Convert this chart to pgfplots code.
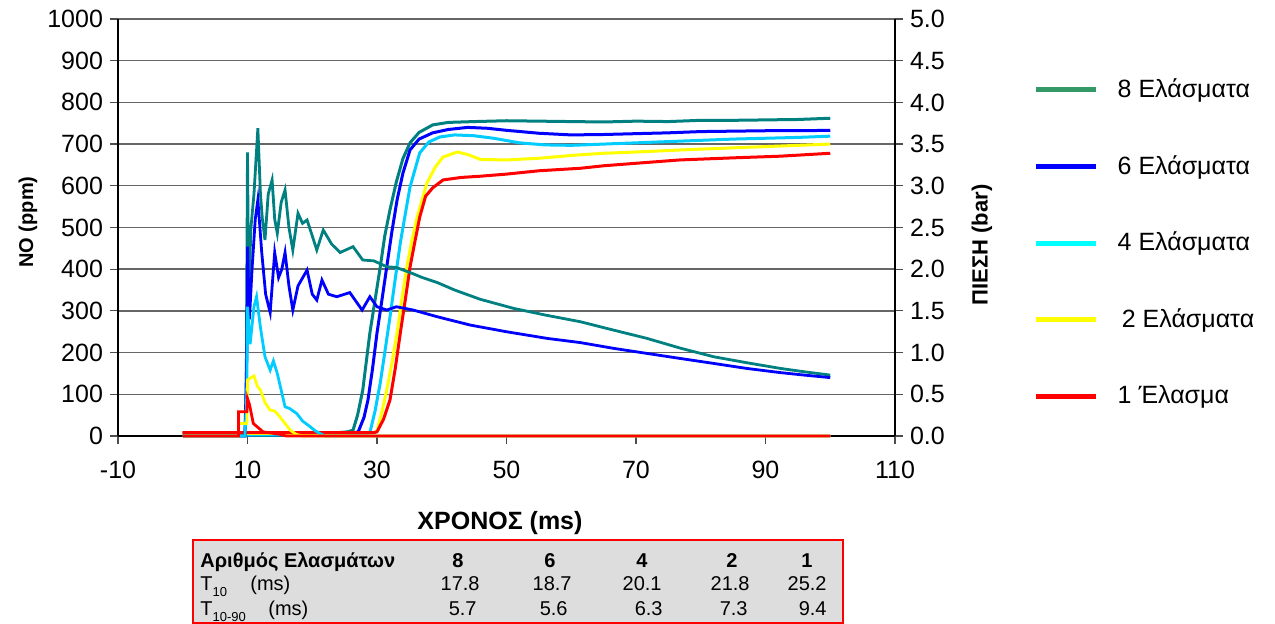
\documentclass[border=0pt]{standalone}
\usepackage{fontspec}
\setmainfont{Liberation Sans}
\usepackage{pgfplots}
\pgfplotsset{compat=1.18}
\definecolor{cteal}{RGB}{0,128,128}
\definecolor{cteallg}{RGB}{51,153,102}
\definecolor{cblue}{RGB}{0,0,255}
\definecolor{ccyan}{RGB}{0,204,255}
\definecolor{ccyanlg}{RGB}{0,255,255}
\definecolor{cyellow}{RGB}{255,255,0}
\definecolor{cred}{RGB}{255,0,0}
\definecolor{tblgray}{RGB}{221,221,221}
\pgfplotsset{
  common/.style={
    width=388.5pt, height=208.5pt, scale only axis,
    xmin=-10, xmax=110, clip=false,
    /pgf/number format/assume math mode=true,
    /pgf/number format/1000 sep={},
    tick align=outside, major tick length=4pt,
    tick style={black!70, line width=0.6pt},
    ticklabel style={font=\fontsize{12.5}{14}\selectfont},
    axis line style={black, line width=0.8pt},
  }
}
\begin{document}
\begin{tikzpicture}
\begin{axis}[common,
  ymin=0, ymax=1000, ytick={0,100,...,1000},
  xtick={-10,10,...,110},
  axis x line*=bottom, axis y line*=left,
  xticklabel style={yshift=-5pt},
  ymajorgrids, grid style={black!60, line width=0.7pt},
  ylabel={\textbf{NO (ppm)}},
  ylabel style={font=\fontsize{10}{12}\selectfont, at={(axis description cs:-0.1158,0.513)}, anchor=center},
  xlabel={\textbf{ΧΡΟΝΟΣ (ms)}},
  xlabel style={font=\fontsize{12.5}{14}\selectfont, at={(axis description cs:0.4916,-0.2086)}, anchor=center},
  legend style={at={(axis description cs:1.178,0.868)}, anchor=north west, draw=none, fill=none,
    inner sep=0pt, row sep=23.5pt, font=\fontsize{12.5}{14}\selectfont,
    nodes={inner sep=2pt}},
  legend cell align=left,
  legend image code/.code={\draw[#1, line width=2.5pt] (0pt,0pt) -- (30pt,0pt); \path (38pt,0pt);},
  every axis plot/.append style={line width=1.5pt},
]
\addplot[cteal, mark=none, legend image post style={cteallg}] coordinates {
(0,8) (5,8) (10,8) (15,8) (20,8) (24,8) (25.5,10) (26.3,14) (27,50) (27.8,110) (28.9,247) (29.7,326)
(30.5,405) (31.2,480) (32.0,542) (33,610) (34,665) (35.1,703) (36.5,728) (38.6,746) (41,752) (45,754)
(50,756) (55,755) (60,754) (65,753) (70,755) (75,754) (80,757) (85,757) (90,758) (95,759) (100,762)};
\addlegendentry{8 Ελάσματα}
\addplot[cblue, mark=none] coordinates {
(0,6) (5,6) (10,6) (15,6) (20,6) (26,6) (27.1,10) (28,45) (28.6,86) (29.3,160) (30.0,247) (30.8,330)
(31.5,405) (32.3,490) (33.1,566) (34,630) (35.1,686) (36.5,712) (38.6,727) (41,735) (44,740) (47,738)
(50,733) (55,726) (60,722) (65,723) (70,725) (75,727) (80,730) (85,731) (90,732) (95,732) (100,733)};
\addlegendentry{6 Ελάσματα}
\addplot[ccyan, mark=none, legend image post style={ccyanlg}] coordinates {
(0,2) (10,2) (20,2) (28,3) (28.9,8) (29.7,60) (30.5,127) (31.2,200) (32.0,285) (32.8,375) (33.6,463)
(34.4,535) (35.1,597) (36.6,679) (38,705) (39.7,717) (42,722) (45,720) (48,714) (52,703) (56,698)
(60,697) (65,700) (70,703) (75,706) (80,709) (85,712) (90,714) (95,716) (100,719)};
\addlegendentry{4 Ελάσματα}
\addplot[cyellow, mark=none] coordinates {
(0,6) (10,6) (20,6) (29.5,8) (30.0,12) (30.8,60) (31.5,110) (32.3,175) (33.1,247) (33.8,325) (34.6,405)
(35.4,470) (36.2,525) (37.7,606) (39,645) (40.2,669) (42.4,681) (44,675) (46,663) (50,662) (55,666)
(61,674) (65,678) (70,681) (77,686) (85,691) (90,694) (95,697) (100,700)};
\addlegendentry{\,2 Ελάσματα}
\addplot[cred, mark=none] coordinates {
(0,8) (10,8) (20,8) (29.5,8) (30,10) (31,40) (32,86) (32.8,160) (33.6,247) (34.4,330) (35.1,405)
(35.9,470) (36.6,525) (37.5,575) (38.6,595) (40.2,614) (43,620) (46,623) (50,628) (55,636) (61.4,642)
(65,648) (70,654) (76.8,662) (85,667) (92.3,671) (100,678)};
\addlegendentry{1 Έλασμα}
\end{axis}
\begin{axis}[common,
  ymin=0, ymax=5, ytick={0,0.5,1,1.5,2,2.5,3,3.5,4,4.5,5},
  axis x line=none, axis y line*=right,
  yticklabel style={/pgf/number format/.cd, fixed, fixed zerofill, precision=1},
  ylabel={\textbf{ΠΙΕΣΗ (bar)}},
  ylabel style={font=\fontsize{11}{13}\selectfont, at={(axis description cs:1.112,0.458)}, anchor=center},
  every axis plot/.append style={line width=1.4pt},
]
\addplot[cteal, mark=none] coordinates {
(0,0) (9.6,0) (9.8,0.5) (10.0,3.4) (10.2,1.5) (10.5,2.47) (11.0,2.9) (11.6,3.69) (12.0,2.9) (12.3,2.6)
(12.7,2.35) (13.2,2.9) (13.8,3.07) (14.2,2.6) (14.6,2.43) (15.2,2.8) (15.8,2.95) (16.4,2.5) (17.0,2.23)
(17.8,2.67) (18.5,2.55) (19.2,2.59) (20.0,2.4) (20.7,2.23) (21.7,2.47) (23,2.3) (24.3,2.2) (26.3,2.27)
(27.8,2.11) (29.5,2.1) (31.5,2.03) (33,2.02) (35.1,1.96) (37,1.9) (39.3,1.84) (42,1.75) (45.9,1.64)
(51.1,1.53) (56,1.45) (61.4,1.37) (66,1.28) (71.7,1.17) (77,1.05) (82.0,0.95) (87,0.88) (92.3,0.81)
(96,0.77) (100,0.73)};
\addplot[cblue, mark=none] coordinates {
(0,0) (9.6,0) (9.9,1.0) (10.0,2.27) (10.3,1.4) (10.7,2.0) (11.2,2.6) (11.6,2.83) (12.2,2.2) (12.8,1.7)
(13.5,1.48) (14.2,2.2) (14.8,1.9) (15.3,2.0) (15.8,2.2) (16.4,1.8) (17.0,1.51) (17.8,1.8) (19.2,1.99)
(20.0,1.7) (20.7,1.63) (21.5,1.87) (22.5,1.7) (23.8,1.67) (25.8,1.72) (27.7,1.51) (28.9,1.67) (30,1.55)
(31.5,1.51) (33,1.55) (35.6,1.51) (39.3,1.43) (44.4,1.33) (50,1.25) (56.3,1.17) (61.4,1.12) (66.6,1.05)
(71.7,0.99) (76.8,0.93) (82,0.87) (87.1,0.81) (92.3,0.76) (96,0.73) (100,0.7)};
\addplot[ccyan, mark=none] coordinates {
(0,0) (9.6,0) (9.9,0.5) (10.0,1.55) (10.4,1.1) (11.0,1.55) (11.4,1.67) (12.0,1.3) (12.7,0.95) (13.2,0.85)
(13.5,0.79) (14.0,0.9) (14.6,0.75) (15.2,0.55) (15.8,0.35) (16.5,0.33) (17.6,0.27) (18.5,0.18) (19.7,0.11)
(20.5,0.06) (21.2,0.03) (22,0) (100,0)};
\addplot[cyellow, mark=none] coordinates {
(0,0) (8.6,0) (8.6,0.15) (9.9,0.15) (10.0,0.67) (10.5,0.7) (11,0.72) (11.5,0.6) (12,0.55) (12.7,0.4)
(13.5,0.31) (14.2,0.3) (15,0.23) (15.8,0.15) (16.6,0.07) (17.5,0.02) (18.5,0) (100,0)};
\addplot[cred, mark=none] coordinates {
(0,0) (8.6,0) (8.6,0.29) (9.9,0.29) (10.0,0.45) (10.3,0.38) (10.9,0.15) (12.4,0.05) (15,0.02) (16,0) (100,0)};
\end{axis}
\begin{scope}[font=\fontsize{10}{11}\selectfont]
\draw[cred, line width=0.8pt, fill=tblgray] (37.5pt,-52pt) rectangle (362.5pt,-93.5pt);
\node[anchor=base west, inner sep=0pt] at (41pt,-66pt) {\textbf{Αριθμός Ελασμάτων}};
\node[anchor=base, inner sep=0pt] at (170pt,-66pt) {\textbf{8}};
\node[anchor=base, inner sep=0pt] at (216pt,-66pt) {\textbf{6}};
\node[anchor=base, inner sep=0pt] at (262pt,-66pt) {\textbf{4}};
\node[anchor=base, inner sep=0pt] at (307pt,-66pt) {\textbf{2}};
\node[anchor=base, inner sep=0pt] at (344.5pt,-66pt) {\textbf{1}};
\node[anchor=base west, inner sep=0pt] at (41pt,-77.5pt) {T\raisebox{-0.5ex}{\fontsize{6.5}{7}\selectfont 10}};
\node[anchor=base west, inner sep=0pt] at (66pt,-77.5pt) {(ms)};
\node[anchor=base east, inner sep=0pt] at (181pt,-77.5pt) {17.8};
\node[anchor=base east, inner sep=0pt] at (227pt,-77.5pt) {18.7};
\node[anchor=base east, inner sep=0pt] at (272pt,-77.5pt) {20.1};
\node[anchor=base east, inner sep=0pt] at (316pt,-77.5pt) {21.8};
\node[anchor=base east, inner sep=0pt] at (354.5pt,-77.5pt) {25.2};
\node[anchor=base west, inner sep=0pt] at (41pt,-90pt) {T\raisebox{-0.5ex}{\fontsize{6.5}{7}\selectfont 10-90}};
\node[anchor=base west, inner sep=0pt] at (75pt,-90pt) {(ms)};
\node[anchor=base east, inner sep=0pt] at (179.5pt,-90pt) {5.7};
\node[anchor=base east, inner sep=0pt] at (225pt,-90pt) {5.6};
\node[anchor=base east, inner sep=0pt] at (272.5pt,-90pt) {6.3};
\node[anchor=base east, inner sep=0pt] at (315pt,-90pt) {7.3};
\node[anchor=base east, inner sep=0pt] at (354.5pt,-90pt) {9.4};
\end{scope}
\pgfresetboundingbox
\path[use as bounding box] (-59pt,-94pt) rectangle (578.5pt,218pt);
\end{tikzpicture}
\end{document}
